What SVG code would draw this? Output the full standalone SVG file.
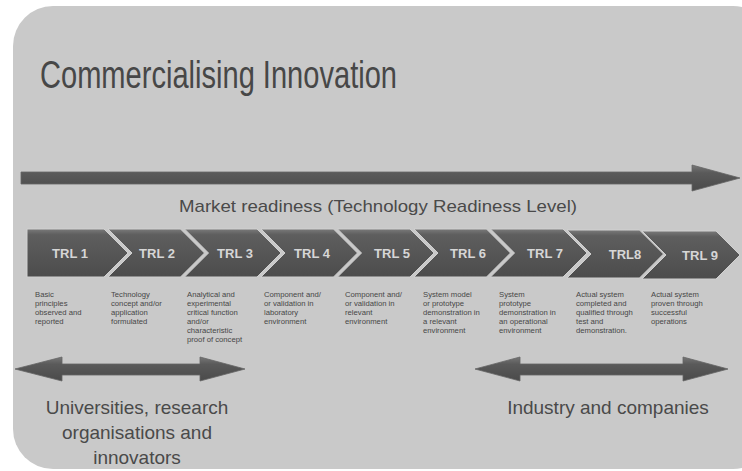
<svg xmlns="http://www.w3.org/2000/svg" width="742" height="471" viewBox="0 0 742 471">
<defs>
<linearGradient id="chev" x1="0" y1="0" x2="0" y2="1">
<stop offset="0" stop-color="#7a7a7a"/>
<stop offset="0.12" stop-color="#5e5e5e"/>
<stop offset="1" stop-color="#4c4c4c"/>
</linearGradient>
<linearGradient id="arr" x1="0" y1="0" x2="0" y2="1">
<stop offset="0" stop-color="#777"/>
<stop offset="0.3" stop-color="#5a5a5a"/>
<stop offset="1" stop-color="#4a4a4a"/>
</linearGradient>
<style>
.ttl{font-family:"Liberation Sans",Arial,sans-serif;fill:#474747}
.lab{font-family:"Liberation Sans",Arial,sans-serif;font-weight:bold;font-size:13px;fill:#d6d6d6;text-anchor:middle}
.desc{font-family:"Liberation Sans",Arial,sans-serif;font-size:7.7px;fill:#474747}
.chev{fill:url(#chev);stroke:#d0d0d0;stroke-width:1}
.arrow{fill:url(#arr);stroke:#666;stroke-width:0.8}
.big{font-family:"Liberation Sans",Arial,sans-serif;font-size:17px;fill:#4a4a4a;text-anchor:middle}
.low{font-family:"Liberation Sans",Arial,sans-serif;font-size:19px;fill:#4a4a4a;text-anchor:middle}
</style>
</defs>
<rect x="0" y="0" width="742" height="471" fill="#ffffff"/>
<rect x="13" y="6" width="760" height="463" rx="40" ry="40" fill="#c9c9c9"/>
<text class="ttl" x="40" y="88" font-size="38" textLength="357" lengthAdjust="spacingAndGlyphs">Commercialising Innovation</text>
<g id="connectors">
<polygon id="market-arrow" class="arrow" points="21,172 692,172 692,165 740,178 692,191 692,184 21,184"/>
<polygon id="left-arrow" class="arrow" points="15,369 62,357 62,364 200,364 200,357 245,369 200,381 200,375 62,375 62,381"/>
<polygon id="right-arrow" class="arrow" points="475,369 520,357 520,364 683,364 683,357 728,369 683,381 683,375 520,375 520,381"/>
</g>
<text class="big" x="378" y="212" textLength="398" lengthAdjust="spacingAndGlyphs">Market readiness (Technology Readiness Level)</text>
<g id="trl1"><path class="chev" d="M27,229 L104,229 L128,253 L104,277 L27,277 Z"/><text class="lab" x="70" y="258">TRL 1</text>
<text class="desc" x="35" y="297">Basic<tspan x="35" dy="8.9">principles</tspan><tspan x="35" dy="8.9">observed and</tspan><tspan x="35" dy="8.9">reported</tspan></text></g>
<g id="trl2"><path class="chev" d="M108,229 L180.5,229 L204.5,253 L180.5,277 L108,277 L132,253 Z"/><text class="lab" x="157" y="258">TRL 2</text>
<text class="desc" x="111" y="297">Technology<tspan x="111" dy="8.9">concept and/or</tspan><tspan x="111" dy="8.9">application</tspan><tspan x="111" dy="8.9">formulated</tspan></text></g>
<g id="trl3"><path class="chev" d="M184.5,229 L257,229 L281,253 L257,277 L184.5,277 L208.5,253 Z"/><text class="lab" x="235" y="258">TRL 3</text>
<text class="desc" x="187" y="297">Analytical and<tspan x="187" dy="8.9">experimental</tspan><tspan x="187" dy="8.9">critical function</tspan><tspan x="187" dy="8.9">and/or</tspan><tspan x="187" dy="8.9">characteristic</tspan><tspan x="187" dy="8.9">proof of concept</tspan></text></g>
<g id="trl4"><path class="chev" d="M261,229 L333.5,229 L357.5,253 L333.5,277 L261,277 L285,253 Z"/><text class="lab" x="312" y="258">TRL 4</text>
<text class="desc" x="264" y="297">Component and/<tspan x="264" dy="8.9">or validation in</tspan><tspan x="264" dy="8.9">laboratory</tspan><tspan x="264" dy="8.9">environment</tspan></text></g>
<g id="trl5"><path class="chev" d="M337.5,229 L410,229 L434,253 L410,277 L337.5,277 L361.5,253 Z"/><text class="lab" x="392" y="258">TRL 5</text>
<text class="desc" x="345" y="297">Component and/<tspan x="345" dy="8.9">or validation in</tspan><tspan x="345" dy="8.9">relevant</tspan><tspan x="345" dy="8.9">environment</tspan></text></g>
<g id="trl6"><path class="chev" d="M414,229 L486.5,229 L510.5,253 L486.5,277 L414,277 L438,253 Z"/><text class="lab" x="468" y="258">TRL 6</text>
<text class="desc" x="423" y="297">System model<tspan x="423" dy="8.9">or prototype</tspan><tspan x="423" dy="8.9">demonstration in</tspan><tspan x="423" dy="8.9">a relevant</tspan><tspan x="423" dy="8.9">environment</tspan></text></g>
<g id="trl7"><path class="chev" d="M490.5,229 L563,229 L587,253 L563,277 L490.5,277 L514.5,253 Z"/><text class="lab" x="545" y="258">TRL 7</text>
<text class="desc" x="499" y="297">System<tspan x="499" dy="8.9">prototype</tspan><tspan x="499" dy="8.9">demonstration in</tspan><tspan x="499" dy="8.9">an operational</tspan><tspan x="499" dy="8.9">environment</tspan></text></g>
<g id="trl8"><path class="chev" d="M567,230 L639.5,230 L663.5,254 L639.5,278 L567,278 L591,254 Z"/><text class="lab" x="625" y="259">TRL8</text>
<text class="desc" x="576" y="297">Actual system<tspan x="576" dy="8.9">completed and</tspan><tspan x="576" dy="8.9">qualified through</tspan><tspan x="576" dy="8.9">test and</tspan><tspan x="576" dy="8.9">demonstration.</tspan></text></g>
<g id="trl9"><path class="chev" d="M642,231 L716,231 L740,255 L716,279 L642,279 L666,255 Z"/><text class="lab" x="700" y="260">TRL 9</text>
<text class="desc" x="651" y="297">Actual system<tspan x="651" dy="8.9">proven through</tspan><tspan x="651" dy="8.9">successful</tspan><tspan x="651" dy="8.9">operations</tspan></text></g>
<g id="universities"><text class="low" x="137" y="414">Universities, research<tspan x="137" dy="25">organisations and</tspan><tspan x="137" dy="25">innovators</tspan></text></g>
<g id="industry"><text class="low" x="608" y="414">Industry and companies</text></g>
</svg>
